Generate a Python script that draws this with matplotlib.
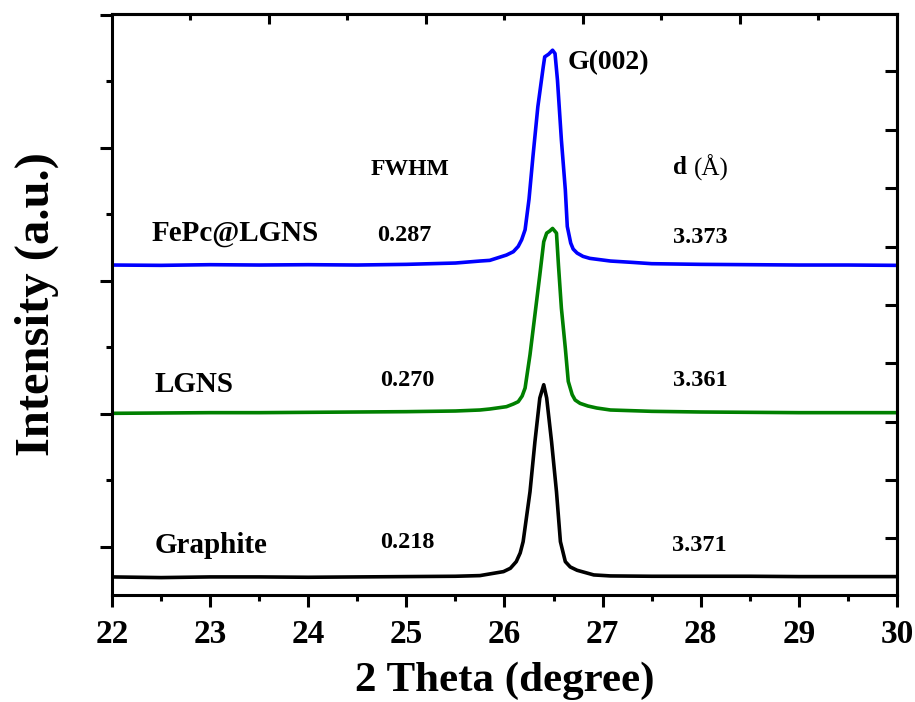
import matplotlib
matplotlib.use("Agg")
import matplotlib.pyplot as plt
from matplotlib.ticker import FixedLocator, NullFormatter

plt.rcParams['font.family'] = ['Liberation Serif', 'DejaVu Serif']
plt.rcParams['font.weight'] = 'bold'

# ---- data (2-theta in degree, intensity in offset arbitrary units) ----
graphite_x = [22.0, 22.5, 23.0, 23.5, 24.0, 24.5, 25.0, 25.5, 25.75, 25.99, 26.06, 26.12, 26.16,
              26.19, 26.26, 26.31, 26.36, 26.40, 26.43, 26.48, 26.53, 26.57, 26.62, 26.67,
              26.74, 26.91, 27.08, 27.5, 28.0, 28.5, 29.0, 29.5, 30.0]
graphite_y = [-0.45, -0.46, -0.45, -0.45, -0.455, -0.45, -0.445, -0.44, -0.43, -0.37, -0.32, -0.22,
              -0.09, 0.08, 0.83, 1.58, 2.24, 2.44, 2.24, 1.58, 0.83, 0.08, -0.22, -0.30,
              -0.35, -0.42, -0.435, -0.44, -0.44, -0.44, -0.445, -0.445, -0.445]

lgns_x = [22.0, 22.5, 23.0, 23.5, 24.0, 24.5, 25.0, 25.5, 25.75, 25.85, 26.02, 26.09, 26.14,
          26.18, 26.21, 26.26, 26.31, 26.36, 26.40, 26.43, 26.46, 26.49, 26.53, 26.55, 26.58,
          26.62, 26.65, 26.69, 26.72, 26.77, 26.85, 26.94, 27.08, 27.5, 28.0, 28.5, 29.0,
          29.5, 30.0]
lgns_y = [2.01, 2.015, 2.02, 2.02, 2.025, 2.03, 2.035, 2.045, 2.06, 2.075, 2.11, 2.15, 2.185,
          2.27, 2.39, 2.89, 3.49, 4.09, 4.59, 4.72, 4.75, 4.79, 4.72, 4.24, 3.59,
          2.99, 2.49, 2.29, 2.21, 2.16, 2.12, 2.09, 2.06, 2.04, 2.03, 2.025, 2.02,
          2.02, 2.02]

fepc_x = [22.0, 22.5, 23.0, 23.5, 24.0, 24.5, 25.0, 25.5, 25.75, 25.85, 26.02, 26.09, 26.14,
          26.175, 26.21, 26.25, 26.29, 26.34, 26.395, 26.41, 26.45, 26.49, 26.515, 26.54,
          26.58, 26.62, 26.64, 26.675, 26.70, 26.74, 26.80, 26.87, 27.08, 27.3, 27.5, 28.0,
          28.5, 29.0, 29.5, 30.0]
fepc_y = [4.24, 4.235, 4.245, 4.24, 4.245, 4.24, 4.25, 4.27, 4.30, 4.31, 4.39, 4.44, 4.52,
          4.62, 4.77, 5.23, 5.87, 6.62, 7.22, 7.37, 7.41, 7.47, 7.42, 7.02,
          6.12, 5.37, 4.82, 4.57, 4.48, 4.42, 4.37, 4.34, 4.30, 4.28, 4.26, 4.25,
          4.245, 4.24, 4.24, 4.235]

sample_names = ['Graphite', 'LGNS', 'FePc@LGNS']
fwhm_labels = ['0.218', '0.270', '0.287']
d_labels = ['3.371', '3.361', '3.373']

x_major = [22, 23, 24, 25, 26, 27, 28, 29, 30]
x_minor = [22.5, 23.5, 24.5, 25.5, 26.5, 27.5, 28.5, 29.5]
y_major_left = [0, 2, 4, 6, 8]
y_minor_left = [1, 3, 5, 7]
y_right = [0.14, 1.01, 1.88, 2.77, 3.64, 4.51, 5.40, 6.27, 7.16]
x_top_major = [23.6, 25.2, 26.8, 28.4]
x_top_minor = [22.8, 24.4, 26.0, 27.6, 29.2]

# ---- figure ----
fig = plt.figure(figsize=(9.15, 7.02), dpi=100)
ax = fig.add_axes([0.1224, 0.1524, 0.8579, 0.8277])

lw = 2.6
ax.plot(graphite_x, graphite_y, color='black', lw=lw, solid_joinstyle='round')
ax.plot(lgns_x, lgns_y, color='#008000', lw=lw, solid_joinstyle='round')
ax.plot(fepc_x, fepc_y, color='#0000FF', lw=lw, solid_joinstyle='round')

ax.set_xlim(22, 30)
ax.set_ylim(-0.722, 8.015)

for s in ax.spines.values():
    s.set_linewidth(2.2)

ax.xaxis.set_major_locator(FixedLocator(x_major))
ax.xaxis.set_minor_locator(FixedLocator(x_minor))
ax.yaxis.set_major_locator(FixedLocator(y_major_left))
ax.yaxis.set_minor_locator(FixedLocator(y_minor_left))
ax.yaxis.set_major_formatter(NullFormatter())
ax.tick_params(axis='x', which='major', direction='out', length=8.5, width=2.2,
               labelsize=24, pad=9, top=False)
ax.tick_params(axis='x', which='minor', direction='out', length=4.5, width=2.2, top=False)
ax.tick_params(axis='y', which='major', direction='out', length=8.5, width=2.2, right=False)
ax.tick_params(axis='y', which='minor', direction='out', length=4.5, width=2.2, right=False)
for lab in ax.get_xticklabels():
    lab.set_fontweight('bold')

# right axis ticks (inward)
sec_y = ax.secondary_yaxis('right')
sec_y.yaxis.set_major_locator(FixedLocator(y_right))
sec_y.yaxis.set_major_formatter(NullFormatter())
sec_y.tick_params(axis='y', which='major', direction='in', length=8.5, width=2.2)
sec_y.spines['right'].set_linewidth(2.2)

# top axis ticks (inward)
sec_x = ax.secondary_xaxis('top')
sec_x.xaxis.set_major_locator(FixedLocator(x_top_major))
sec_x.xaxis.set_minor_locator(FixedLocator(x_top_minor))
sec_x.xaxis.set_major_formatter(NullFormatter())
sec_x.tick_params(axis='x', which='major', direction='in', length=7.5, width=2.2)
sec_x.tick_params(axis='x', which='minor', direction='in', length=4.0, width=2.2)
sec_x.spines['top'].set_linewidth(2.2)

ax.set_xlabel('2 Theta (degree)', fontsize=31, fontweight='bold', labelpad=8)
ax.set_ylabel('Intensity (a.u.)', fontsize=35, fontweight='bold', labelpad=26)

# annotations
ax.text(26.647, 7.29, 'G(002)', fontsize=20, fontweight='bold', ha='left', va='center')
ax.text(25.037, 5.67, 'FWHM', fontsize=17, fontweight='bold', ha='center', va='center')
ax.text(27.717, 5.70, 'd', fontsize=18, fontweight='bold', ha='left', va='center')
ax.text(27.93, 5.70, '(Å)', fontsize=18, fontweight='normal', ha='left', va='center')

name_pos = [(22.438, 0.03), (22.438, 2.44), (22.408, 4.72)]
fwhm_pos = [(24.731, 0.075), (24.731, 2.51), (24.701, 4.69)]
d_pos = [(27.707, 0.03), (27.717, 2.51), (27.717, 4.66)]
for name, fw, dd, npos, fpos, dpos in zip(sample_names, fwhm_labels, d_labels,
                                          name_pos, fwhm_pos, d_pos):
    ax.text(npos[0], npos[1], name, fontsize=21, fontweight='bold', ha='left', va='center')
    ax.text(fpos[0], fpos[1], fw, fontsize=17.5, fontweight='bold', ha='left', va='center')
    ax.text(dpos[0], dpos[1], dd, fontsize=17.5, fontweight='bold', ha='left', va='center')

fig.savefig('out.png', dpi=100)
